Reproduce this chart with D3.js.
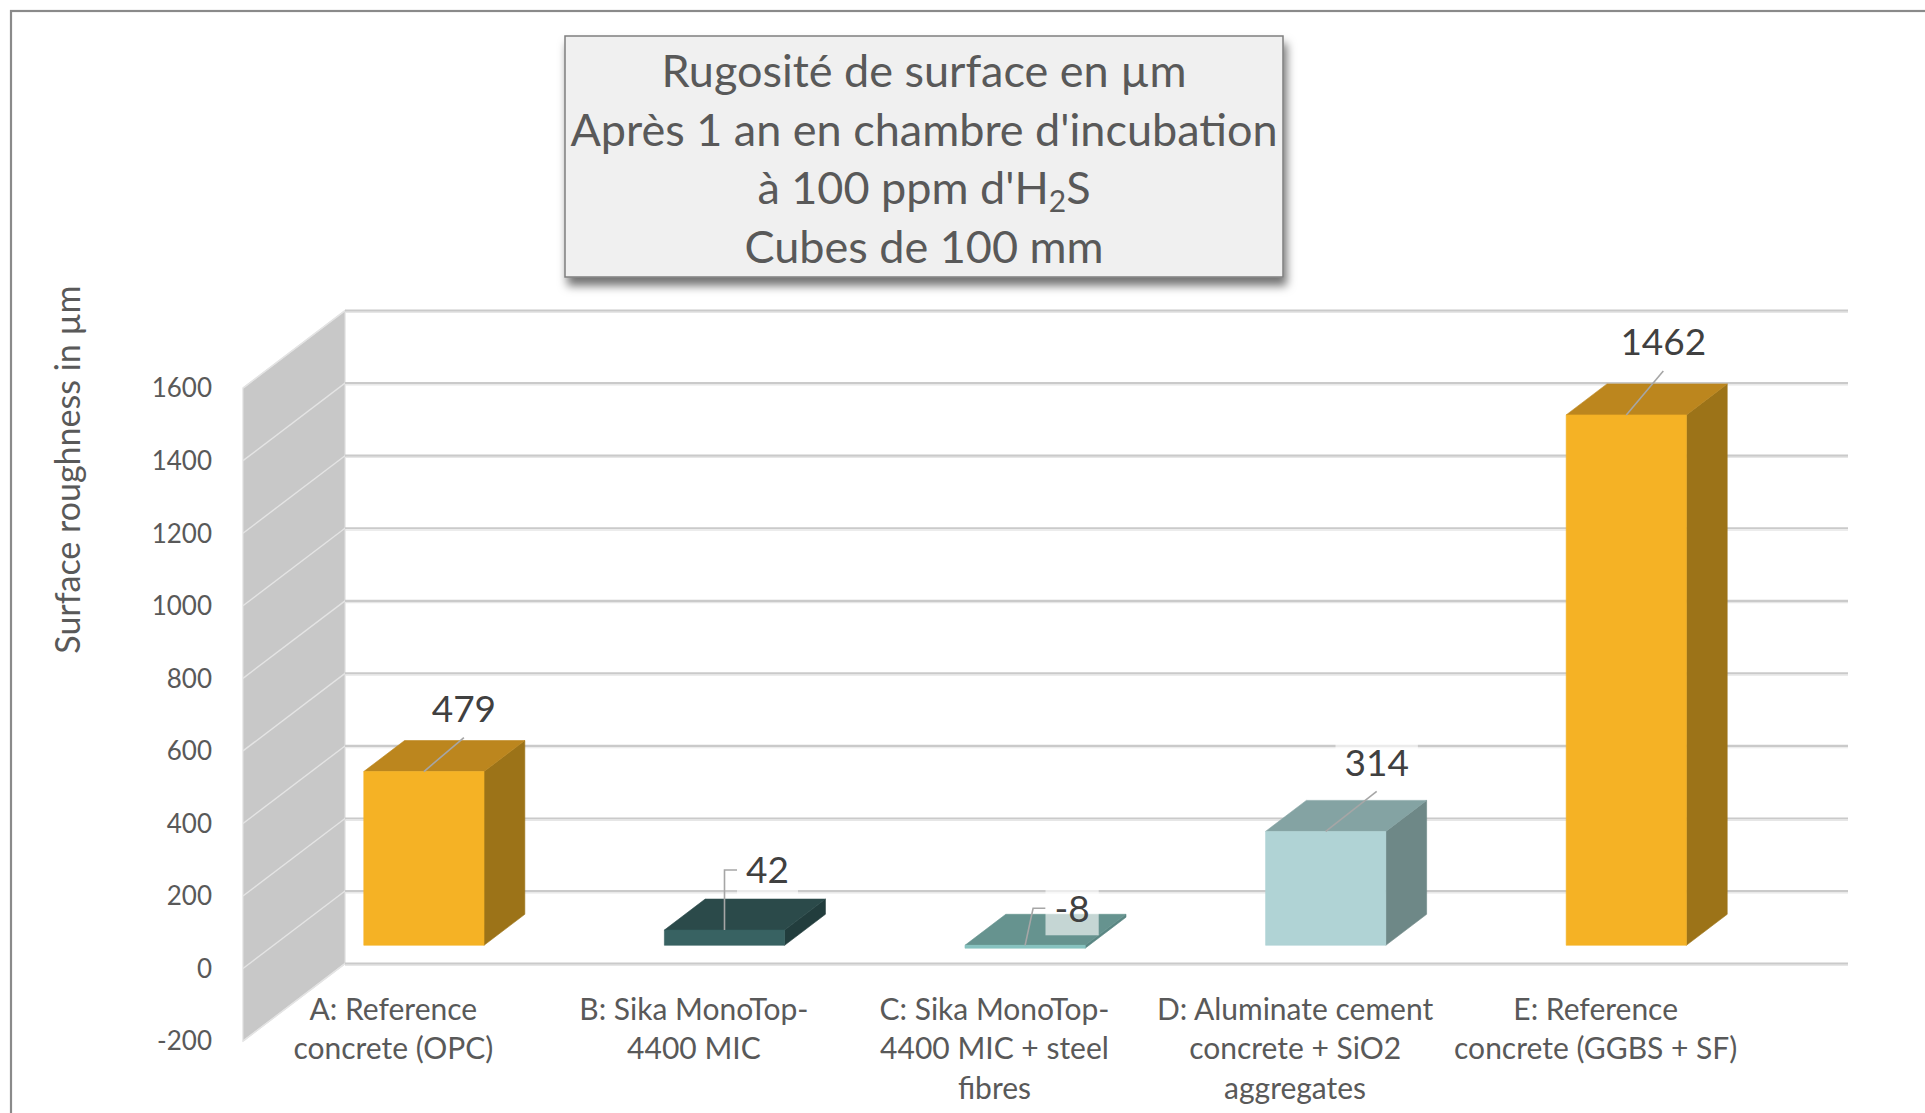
<!DOCTYPE html>
<html>
<head>
<meta charset="utf-8">
<script src="https://cdn.jsdelivr.net/npm/d3@7"></script>
<style>
  html, body { margin: 0; padding: 0; background: #ffffff; }
  svg { display: block; }
  text { font-family: Lato, "Open Sans", sans-serif; }
</style>
</head>
<body>
<svg id="chart" width="1925" height="1113"></svg>
<script>
// ---- data ----
const categories = [
  "A: Reference concrete (OPC)",
  "B: Sika MonoTop-4400 MIC",
  "C: Sika MonoTop-4400 MIC + steel fibres",
  "D: Aluminate cement concrete + SiO2 aggregates",
  "E: Reference concrete (GGBS + SF)"
];
const categoryLines = [
  ["A: Reference", "concrete (OPC)"],
  ["B: Sika MonoTop-", "4400 MIC"],
  ["C: Sika MonoTop-", "4400 MIC + steel", "fibres"],
  ["D: Aluminate cement", "concrete + SiO2", "aggregates"],
  ["E: Reference", "concrete (GGBS + SF)"]
];
const values = [479, 42, -8, 314, 1462];
const yTicks = [-200, 0, 200, 400, 600, 800, 1000, 1200, 1400, 1600];
const yAxisTitle = "Surface roughness in µm";
const titleLines = [
  [{ t: "Rugosité de surface en µm" }],
  [{ t: "Après 1 an en chambre d'incubation" }],
  [{ t: "à 100 ppm d'H" }, { t: "2", sub: true }, { t: "S" }],
  [{ t: "Cubes de 100 mm" }]
];

// ---- styling / layout ----
const barColors = [
  { front: "#f5b225", top: "#bc861e", side: "#9c7318" },
  { front: "#386262", top: "#2b4a4a", side: "#223d3d" },
  { front: "#86c2c0", top: "#66938f", side: "#5a8683" },
  { front: "#b0d3d5", top: "#84a3a3", side: "#6e8887" },
  { front: "#f5b225", top: "#bc861e", side: "#9c7318" }
];
// label centre offset from the front-top edge of each bar, and leader style
const labelNudge = [
  { dx: 40, dy: -63, leader: "straight" },
  { dx: 43, dy: -60, leader: "elbow", kx: 0 },
  { dx: 47, dy: -37, leader: "elbow", kx: 8 },
  { dx: 51, dy: -69, leader: "straight" },
  { dx: 37, dy: -73, leader: "straight" }
];

const svg = d3.select("#chart");
const W = 1925, H = 1113;

// oblique projection: back wall plane + depth vector towards the viewer
const wallX0 = 345, wallX1 = 1848;
const depth = { dx: -102, dy: 77.5 };
const dFront = 0.7, dBack = 0.3;   // bar slab position in depth (0 = back, 1 = front)
const P = (px, py, d) => [px + depth.dx * d, py + depth.dy * d];

const y = d3.scaleLinear().domain([-200, 1600]).range([963.6, 310.6]);
const x = d3.scaleBand().domain(categories).range([wallX0, wallX1])
  .paddingInner(0.6).paddingOuter(0.3);

const defs = svg.append("defs");
const shadow = defs.append("filter").attr("id", "boxShadow")
  .attr("x", "-10%").attr("y", "-10%").attr("width", "125%").attr("height", "135%");
shadow.append("feDropShadow").attr("dx", 3).attr("dy", 8).attr("stdDeviation", 5)
  .attr("flood-color", "#000").attr("flood-opacity", 0.55);

// outer chart frame
svg.append("rect").attr("x", 11).attr("y", 11).attr("width", W + 50).attr("height", H + 50)
  .attr("fill", "#ffffff").attr("stroke", "#8a8a8a").attr("stroke-width", 2.2);

// ---- side wall ----
const vMin = y.domain()[0], vMax = y.domain()[1];
const sideWall = [P(wallX0, y(vMax), 1), [wallX0, y(vMax)], [wallX0, y(vMin)], P(wallX0, y(vMin), 1)];
svg.append("polygon").attr("points", sideWall.map(p => p.join(",")).join(" "))
  .attr("fill", "#c8c8c8").attr("stroke", "#dedede").attr("stroke-width", 1.2);

svg.append("g").selectAll("line").data(yTicks).join("line")
  .attr("x1", d => P(wallX0, y(d), 1)[0]).attr("y1", d => P(wallX0, y(d), 1)[1])
  .attr("x2", wallX0).attr("y2", d => y(d))
  .attr("stroke", "#e4e4e4").attr("stroke-width", 1.4);

// ---- back wall gridlines ----
const grid = svg.append("g");
grid.selectAll("line.g1").data(yTicks).join("line").attr("class", "g1")
  .attr("x1", wallX0).attr("x2", wallX1)
  .attr("y1", d => y(d)).attr("y2", d => y(d))
  .attr("stroke", "#cacaca").attr("stroke-width", 2.2);
grid.selectAll("line.g2").data(yTicks).join("line").attr("class", "g2")
  .attr("x1", wallX0).attr("x2", wallX1)
  .attr("y1", d => y(d) + 1.8).attr("y2", d => y(d) + 1.8)
  .attr("stroke", "#e6e6e6").attr("stroke-width", 1.2);

// ---- y tick labels (front plane) ----
svg.append("g").selectAll("text").data(yTicks).join("text")
  .attr("x", d => P(wallX0, y(d), 1)[0] - 31)
  .attr("y", d => P(wallX0, y(d), 1)[1])
  .attr("dy", "0.36em")
  .attr("text-anchor", "end")
  .attr("font-size", 26).attr("fill", "#595959")
  .text(d => d);

// ---- y axis title ----
svg.append("text")
  .attr("transform", "translate(67.5,469.6) rotate(-90)")
  .attr("text-anchor", "middle").attr("dy", "0.36em")
  .attr("font-size", 34).attr("fill", "#595959")
  .text(yAxisTitle);

// ---- bars ----
const bw = x.bandwidth();
const bars = svg.append("g");
values.forEach((v, i) => {
  const c = barColors[i];
  const x0 = x(categories[i]), x1 = x0 + bw;
  const top = y(Math.max(v, 0)), bot = y(Math.min(v, 0));
  const poly = (pts, fill) => bars.append("polygon")
    .attr("points", pts.map(p => p.join(",")).join(" "))
    .attr("fill", fill).attr("stroke", fill).attr("stroke-width", 0.6)
    .attr("stroke-linejoin", "round");
  poly([P(x1, top, dFront), P(x1, top, dBack), P(x1, bot, dBack), P(x1, bot, dFront)], c.side);
  poly([P(x0, top, dFront), P(x1, top, dFront), P(x1, top, dBack), P(x0, top, dBack)], c.top);
  poly([P(x0, top, dFront), P(x1, top, dFront), P(x1, bot, dFront), P(x0, bot, dFront)], c.front);
});

// ---- data labels with leader lines ----
const labels = svg.append("g");
values.forEach((v, i) => {
  const nudge = labelNudge[i];
  const x0 = x(categories[i]);
  const [px, py] = P(x0 + bw / 2, y(Math.max(v, 0)), dFront);
  const lx = px + nudge.dx, ly = py + nudge.dy;

  const txt = labels.append("text")
    .attr("x", lx).attr("y", ly).attr("dy", "0.36em")
    .attr("text-anchor", "middle")
    .attr("font-size", 37).attr("fill", "#404040")
    .text(v);
  const tw = txt.node().getComputedTextLength();
  const boxW = tw + 18, boxH = 50;
  labels.insert("rect", () => txt.node())
    .attr("x", lx - boxW / 2).attr("y", ly - boxH / 2 + 2)
    .attr("width", boxW).attr("height", boxH)
    .attr("fill", "#ffffff").attr("fill-opacity", 0.62);

  let path;
  if (nudge.leader === "elbow") {
    const ex = lx - boxW / 2;
    path = `M${px},${py}L${px + nudge.kx},${ly}L${ex},${ly}`;
  } else {
    path = `M${lx},${ly + 29}L${px},${py}`;
  }
  labels.insert("path", () => txt.node().previousSibling)
    .attr("d", path).attr("fill", "none")
    .attr("stroke", "#a6a6a6").attr("stroke-width", 1.6);
});

// ---- category labels (front plane) ----
const catG = svg.append("g");
categories.forEach((cat, i) => {
  const cx = x(cat) + bw / 2 + depth.dx;
  const baseY = P(0, y(0), 1)[1] + 40.5;
  catG.append("text")
    .attr("text-anchor", "middle").attr("font-size", 30).attr("fill", "#595959")
    .selectAll("tspan").data(categoryLines[i]).join("tspan")
    .attr("x", cx)
    .attr("y", (d, j) => baseY + j * 39.5)
    .attr("dy", "0.36em")
    .text(d => d);
});

// ---- title box ----
svg.append("rect")
  .attr("x", 565).attr("y", 36).attr("width", 718).attr("height", 241)
  .attr("fill", "#f0f0f0").attr("stroke", "#7f7f7f").attr("stroke-width", 1.5)
  .attr("filter", "url(#boxShadow)");
const titleY = [71, 129.5, 188, 247];
titleLines.forEach((parts, i) => {
  const t = svg.append("text")
    .attr("x", 924).attr("y", titleY[i]).attr("dy", "0.36em")
    .attr("text-anchor", "middle").attr("font-size", 45).attr("fill", "#595959");
  parts.forEach(p => {
    const s = t.append("tspan").text(p.t);
    if (p.sub) s.attr("font-size", 30).attr("baseline-shift", "-28%");
  });
});
</script>
</body>
</html>
